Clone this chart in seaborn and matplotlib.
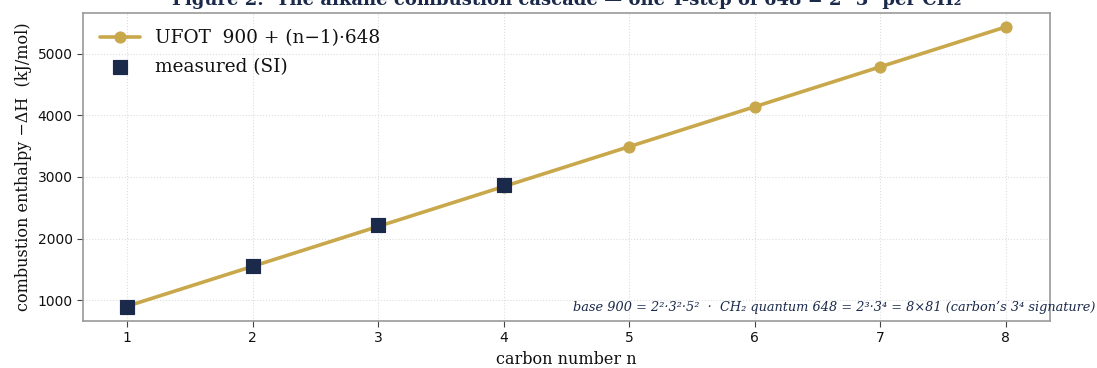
import matplotlib
matplotlib.use("Agg")
import matplotlib.pyplot as plt
import seaborn as sns
import pandas as pd

# data
n_all = [1, 2, 3, 4, 5, 6, 7, 8]
ufot = [900, 1548, 2196, 2844, 3492, 4140, 4788, 5436]
n_meas = [1, 2, 3, 4]
measured = [890, 1560, 2220, 2877]

gold = "#C9A84C"
navy = "#1B2A4A"

sns.set_style("whitegrid")
plt.rcParams["font.family"] = ["DejaVu Sans"]
plt.rcParams["text.color"] = "#111111"

df_u = pd.DataFrame({"n": n_all, "dH": ufot})
df_m = pd.DataFrame({"n": n_meas, "dH": measured})

fig, ax = plt.subplots(figsize=(10.97, 3.68), dpi=100)
fig.subplots_adjust(left=0.0757, right=0.957, top=0.965, bottom=0.128)

sns.lineplot(data=df_u, x="n", y="dH", ax=ax, color=gold, lw=2.6,
             marker="o", markersize=8, markeredgecolor=gold,
             label="UFOT  900 + (n\u22121)\u00b7648", zorder=2)
sns.scatterplot(data=df_m, x="n", y="dH", ax=ax, color=navy, marker="s",
                s=110, edgecolor=navy, label="measured (SI)", zorder=3)

ax.set_xticks(n_all)
ax.set_yticks([1000, 2000, 3000, 4000, 5000])
ax.tick_params(axis="both", labelsize=10, length=4, color="#444444",
               labelcolor="#111111", bottom=True, left=True)
ax.grid(True, linestyle=":", color="#dddddd", linewidth=0.8)
for sp in ax.spines.values():
    sp.set_color("#999999")
    sp.set_linewidth(1.2)

ax.set_xlabel("carbon number n", family="serif", fontsize=11.5, color="#111111")
ax.set_ylabel("combustion enthalpy \u2212\u0394H  (kJ/mol)", family="serif", fontsize=11.5, color="#111111")
ax.set_title("Figure 2.  The alkane combustion cascade \u2014 one T-step of 648 = 2\u00b3\u00b73\u2074 per CH\u2082",
             family="serif", fontweight="bold", fontsize=13, color=navy)

leg = ax.legend(loc="upper left", frameon=False, prop={"family": "serif", "size": 13.3},
                handlelength=2.2, borderaxespad=0.5, labelspacing=0.55)

ax.text(0.9985, 0.147,
        "base 900 = 2\u00b2\u00b73\u00b2\u00b75\u00b2  \u00b7  CH\u2082 quantum 648 = 2\u00b3\u00b73\u2074 = 8\u00d781 (carbon\u2019s 3\u2074 signature)",
        transform=fig.transFigure, ha="right", va="bottom", fontsize=9.3,
        family="serif", style="italic", color=navy)

fig.savefig("out.png", dpi=100)
